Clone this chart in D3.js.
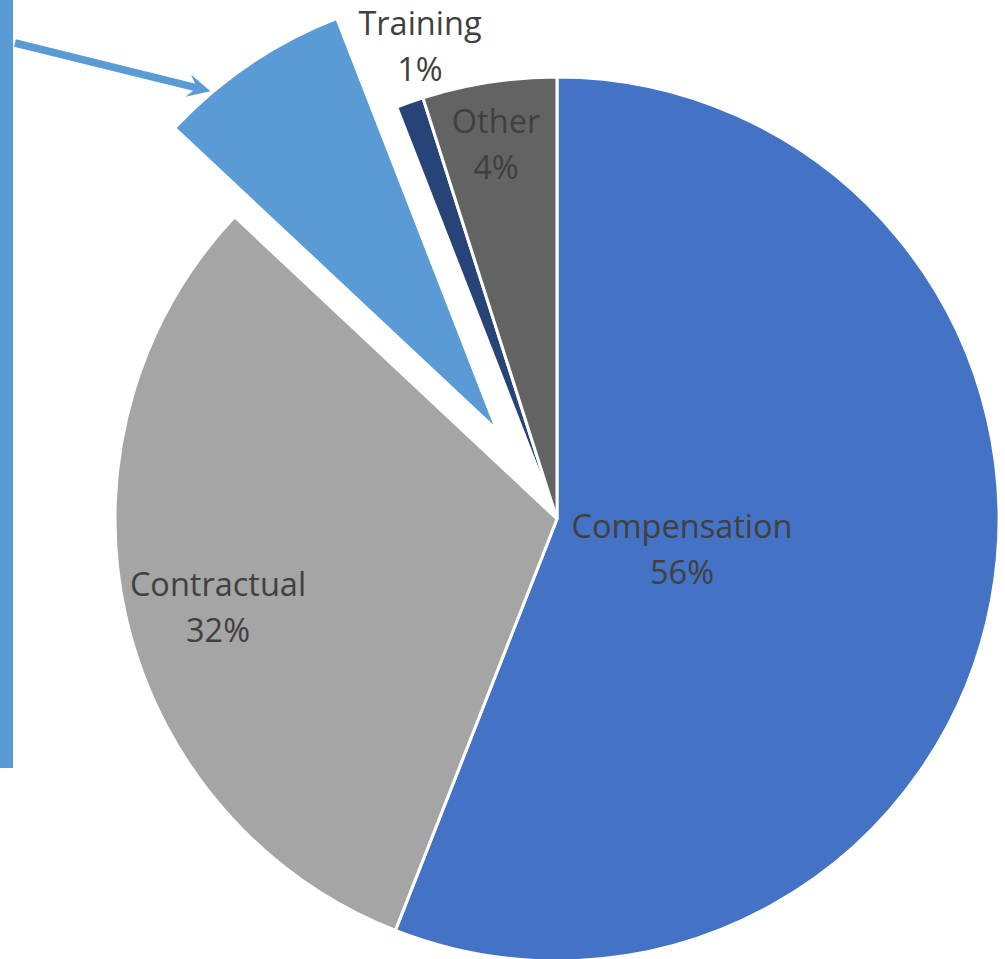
<!DOCTYPE html>
<html>
<head>
<meta charset="utf-8">
<script src="https://cdn.jsdelivr.net/npm/d3@7"></script>
<style>
  html, body { margin: 0; padding: 0; background: #ffffff; }
  svg { display: block; }
</style>
</head>
<body>
<svg id="chart" width="1005" height="959"></svg>
<script>
// ---- data ----
const categories = ["Compensation", "Contractual", "Unlabeled", "Training", "Other"];
const shares = [55.9, 31.0, 7.1, 1.0, 4.9];
const pctLabels = ["56%", "32%", "", "1%", "4%"];
const showName = [true, true, false, true, true];

// ---- styles / layout ----
const colors = ["#4472C4", "#A5A5A5", "#5B9BD5", "#264478", "#636363"];
const explode = [0, 0, 107, 0, 0];
const labelOffsets = [ // first-line baseline relative to pie centre
  [125, 19], [-339, 77], [0, 0], [-137, -484], [-61, -386]
];
const W = 1005, H = 959;
const cx = 557, cy = 519, R = 442;
const font = "'Open Sans', 'Noto Sans', sans-serif";
const fontSize = 32.5;
const lineGap = 46;
const textColor = "#404040";

const svg = d3.select("#chart");

const data = categories.map((c, i) => ({ name: c, value: shares[i], i }));
const pie = d3.pie().sort(null).value(d => d.value).startAngle(0).endAngle(2 * Math.PI);
const arcs = pie(data);
const arcGen = d3.arc().innerRadius(0).outerRadius(R);

function offsetOf(a) {
  const mid = (a.startAngle + a.endAngle) / 2;
  const e = explode[a.data.i];
  return [e * Math.sin(mid), -e * Math.cos(mid)];
}

// label box for the unlabeled slice (cut off at the left edge)
svg.append("rect")
  .attr("x", -40).attr("y", -10)
  .attr("width", 53).attr("height", 778)
  .attr("fill", "#5B9BD5");

const g = svg.append("g").attr("transform", `translate(${cx},${cy})`);

g.selectAll("path.slice")
  .data(arcs)
  .join("path")
  .attr("class", "slice")
  .attr("transform", d => { const o = offsetOf(d); return `translate(${o[0]},${o[1]})`; })
  .attr("d", arcGen)
  .attr("fill", d => colors[d.data.i])
  .attr("stroke", "#ffffff")
  .attr("stroke-width", 3)
  .attr("stroke-linejoin", "miter");

// leader line with arrow from the cut-off label box to the exploded slice
(function () {
  const a = arcs[2];
  const o = offsetOf(a);
  const ang = a.startAngle + (a.endAngle - a.startAngle) * 0.26;
  const tip = [cx + o[0] + (R + 2) * Math.sin(ang), cy + o[1] - (R + 2) * Math.cos(ang)];
  const start = [15, 43];
  const dx = tip[0] - start[0], dy = tip[1] - start[1];
  const L = Math.hypot(dx, dy);
  const u = [dx / L, dy / L], n = [-u[1], u[0]];
  const headLen = 23, headHalf = 11.5, notch = 14;
  const notchPt = [tip[0] - notch * u[0], tip[1] - notch * u[1]];
  svg.append("line")
    .attr("x1", start[0]).attr("y1", start[1])
    .attr("x2", notchPt[0] + 2 * u[0]).attr("y2", notchPt[1] + 2 * u[1])
    .attr("stroke", "#5B9BD5").attr("stroke-width", 7.5);
  const w1 = [tip[0] - headLen * u[0] + headHalf * n[0], tip[1] - headLen * u[1] + headHalf * n[1]];
  const w2 = [tip[0] - headLen * u[0] - headHalf * n[0], tip[1] - headLen * u[1] - headHalf * n[1]];
  svg.append("path")
    .attr("d", `M${tip[0]},${tip[1]}L${w1[0]},${w1[1]}L${notchPt[0]},${notchPt[1]}L${w2[0]},${w2[1]}Z`)
    .attr("fill", "#5B9BD5");
})();

// data labels
const lab = g.selectAll("g.lab")
  .data(arcs.filter(d => showName[d.data.i]))
  .join("g")
  .attr("class", "lab")
  .attr("transform", d => `translate(${labelOffsets[d.data.i][0]},${labelOffsets[d.data.i][1]})`);

lab.append("text")
  .attr("text-anchor", "middle")
  .attr("font-family", font)
  .attr("font-size", fontSize)
  .attr("fill", textColor)
  .text(d => d.data.name);

lab.append("text")
  .attr("text-anchor", "middle")
  .attr("y", lineGap)
  .attr("font-family", font)
  .attr("font-size", fontSize)
  .attr("fill", textColor)
  .text(d => pctLabels[d.data.i]);
</script>
</body>
</html>
